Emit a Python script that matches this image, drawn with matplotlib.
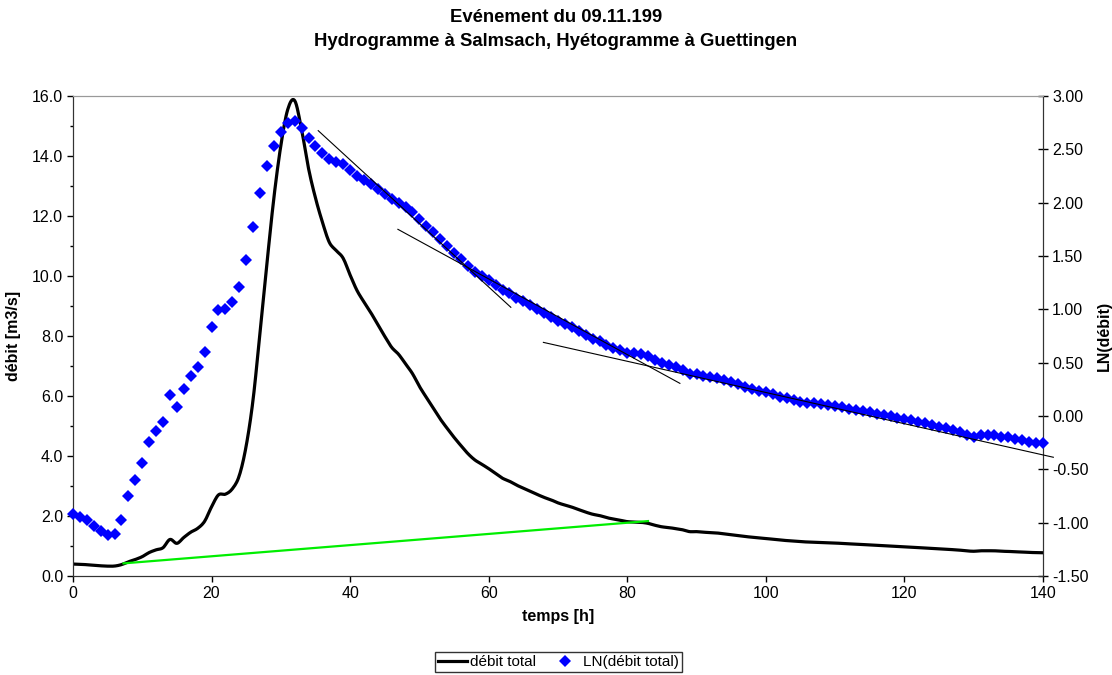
# -*- coding: utf-8 -*-
import numpy as np
import matplotlib as mpl
mpl.use('Agg')
import matplotlib.pyplot as plt
from matplotlib.lines import Line2D

plt.rcParams['font.family'] = ['Liberation Sans', 'DejaVu Sans']
plt.rcParams['axes.unicode_minus'] = False

# hourly values, LN(debit total)
temps = list(range(0, 141))
ln_debit = [
    -0.922, -0.944, -0.978, -1.031, -1.081, -1.116, -1.106, -0.972, -0.750, -0.600,
    -0.440, -0.247, -0.138, -0.059, 0.197, 0.084, 0.250, 0.378, 0.462, 0.600,
    0.834, 0.994, 1.003, 1.066, 1.206, 1.466, 1.772, 2.094, 2.344, 2.534,
    2.663, 2.744, 2.763, 2.700, 2.609, 2.534, 2.468, 2.409, 2.384, 2.360,
    2.306, 2.253, 2.212, 2.172, 2.125, 2.078, 2.031, 2.000, 1.956, 1.909,
    1.844, 1.784, 1.722, 1.656, 1.594, 1.531, 1.469, 1.406, 1.353, 1.315,
    1.275, 1.228, 1.181, 1.150, 1.109, 1.075, 1.040, 1.000, 0.963, 0.931,
    0.891, 0.860, 0.831, 0.794, 0.756, 0.722, 0.700, 0.666, 0.641, 0.619,
    0.594, 0.588, 0.581, 0.562, 0.525, 0.494, 0.478, 0.456, 0.431, 0.391,
    0.391, 0.378, 0.369, 0.359, 0.338, 0.319, 0.297, 0.275, 0.256, 0.237,
    0.222, 0.203, 0.181, 0.166, 0.150, 0.134, 0.125, 0.119, 0.110, 0.102,
    0.094, 0.081, 0.069, 0.059, 0.047, 0.034, 0.022, 0.009, -0.003, -0.016,
    -0.028, -0.038, -0.056, -0.069, -0.084, -0.100, -0.116, -0.131, -0.150, -0.178,
    -0.194, -0.175, -0.175, -0.175, -0.194, -0.200, -0.216, -0.225, -0.241, -0.250,
    -0.256]
debit = np.exp(np.array(ln_debit))

# droite verte (axe debit)
green_x = [7.3, 83.0]
green_y = [0.42, 1.83]

# tangentes (axe LN)
tang_x = [[35.4, 63.2], [46.9, 87.6], [67.9, 141.5]]
tang_y = [[2.675, 1.019], [1.75, 0.306], [0.69, -0.387]]


def smooth(x, y, n=8):
    # catmull-rom, like the excel smoothed line
    x = np.asarray(x, float)
    y = np.asarray(y, float)
    px = np.concatenate([[2 * x[0] - x[1]], x, [2 * x[-1] - x[-2]]])
    py = np.concatenate([[2 * y[0] - y[1]], y, [2 * y[-1] - y[-2]]])
    xs, ys = [], []
    t = np.linspace(0, 1, n, endpoint=False)
    for i in range(1, len(px) - 2):
        for arr, out in ((px, xs), (py, ys)):
            p0, p1, p2, p3 = arr[i - 1], arr[i], arr[i + 1], arr[i + 2]
            out.extend(0.5 * ((2 * p1) + (-p0 + p2) * t
                              + (2 * p0 - 5 * p1 + 4 * p2 - p3) * t ** 2
                              + (-p0 + 3 * p1 - 3 * p2 + p3) * t ** 3))
    xs.append(x[-1])
    ys.append(y[-1])
    return xs, ys


fig = plt.figure(figsize=(11.12, 6.75), dpi=100)
ax = fig.add_axes([0.0656, 0.1467, 0.8723, 0.7111])
ax2 = ax.twinx()

sx, sy = smooth(temps, debit)
ax.plot(sx, sy, color='black', linewidth=2.3, zorder=3)
ax.plot(green_x, green_y, color='#00ee00', linewidth=1.6, zorder=4)

ax2.plot(temps, ln_debit, linestyle='none', marker='D', markersize=6,
         color='#0000ff', markeredgewidth=0, zorder=3, clip_on=False)
for xx, yy in zip(tang_x, tang_y):
    ax2.plot(xx, yy, color='black', linewidth=0.8, zorder=4, clip_on=False)

ax.set_xlim(0, 140)
ax.set_ylim(0, 16)
ax2.set_ylim(-1.5, 3.0)
ax.set_xticks(range(0, 141, 20))
ax.set_yticks(np.arange(0, 16.1, 2))
ax.set_yticks(np.arange(0, 16.1, 1), minor=True)
ax2.set_yticks(np.arange(-1.5, 3.01, 0.5))
ax.set_yticklabels(['%.1f' % v for v in np.arange(0, 16.1, 2)])
ax2.set_yticklabels(['%.2f' % v for v in np.arange(-1.5, 3.01, 0.5)])

ax.tick_params(axis='both', which='major', labelsize=11.5, direction='out', length=4, width=1, pad=3)
ax.tick_params(axis='y', which='minor', direction='out', length=2.5, width=1)
ax2.tick_params(axis='y', which='major', labelsize=11.5, direction='inout', length=7, width=1, pad=3)

for a in (ax, ax2):
    a.spines['top'].set_color('#999999')
    a.spines['left'].set_color('#333333')
    a.spines['bottom'].set_color('#333333')
    a.spines['right'].set_color('#333333')

ax.set_xlabel('temps [h]', fontsize=11.5, fontweight='bold', labelpad=6)
ax.set_ylabel('débit [m3/s]', fontsize=11.5, fontweight='bold', labelpad=8)
ax2.set_ylabel('LN(débit)', fontsize=11.5, fontweight='bold', labelpad=6)

fig.text(0.5, 1 - 18 / 675, 'Evénement du 09.11.199', ha='center', va='center',
         fontsize=13.3, fontweight='bold')
fig.text(0.5, 1 - 42 / 675, 'Hydrogramme à Salmsach, Hyétogramme à Guettingen',
         ha='center', va='center', fontsize=13.3, fontweight='bold')

handles = [Line2D([], [], color='black', linewidth=2.3),
           Line2D([], [], linestyle='none', marker='D', markersize=6,
                  color='#0000ff', markeredgewidth=0)]
leg = fig.legend(handles, ['débit total', 'LN(débit total)'], loc='upper center',
                 bbox_to_anchor=(0.502, 1 - 652 / 675), ncol=2, fontsize=11,
                 frameon=True, fancybox=False, edgecolor='black', handlelength=1.9,
                 columnspacing=1.0, handletextpad=0.2, borderpad=0.2,
                 borderaxespad=0)
leg.get_frame().set_linewidth(1)

plt.savefig('out.png', dpi=100)
